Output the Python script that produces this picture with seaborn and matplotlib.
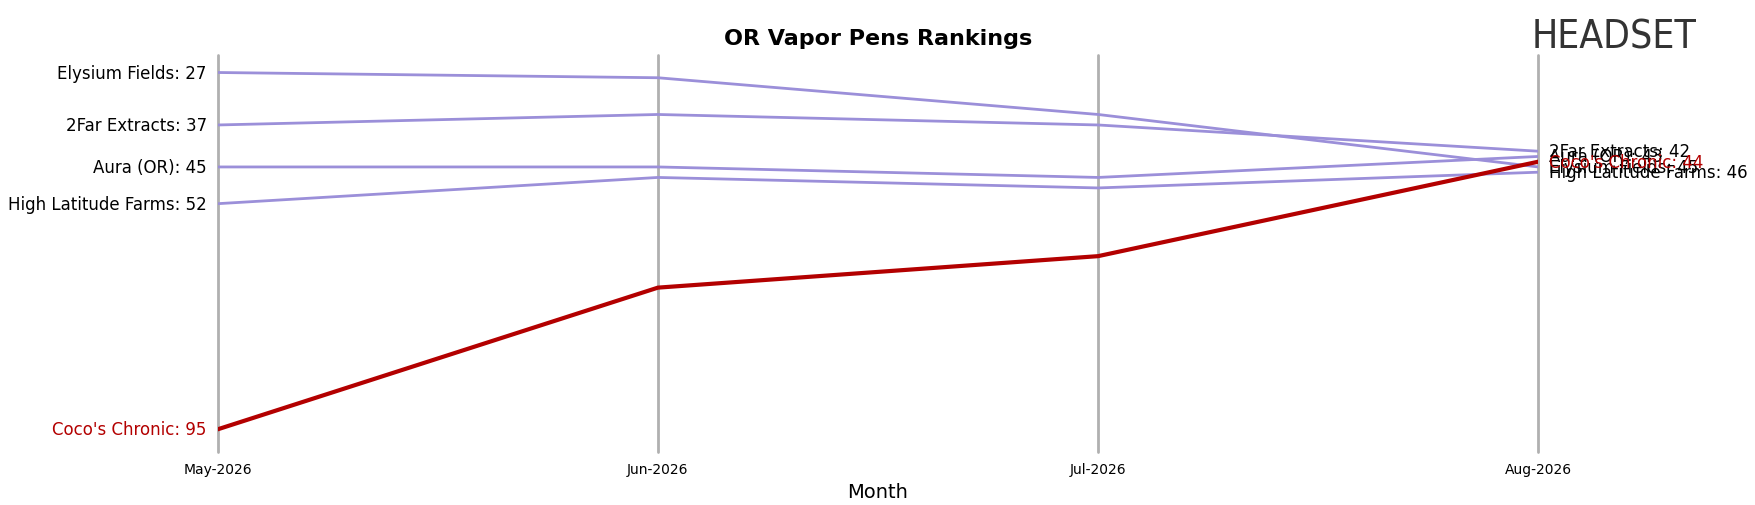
import matplotlib
matplotlib.use("Agg")
import matplotlib.pyplot as plt
import seaborn as sns
import pandas as pd

months = ["May-2026", "Jun-2026", "Jul-2026", "Aug-2026"]
brands = ["Elysium Fields", "2Far Extracts", "Aura (OR)", "High Latitude Farms", "Coco's Chronic"]
ranks = {
    "Elysium Fields": [27, 28, 35, 45],
    "2Far Extracts": [37, 35, 37, 42],
    "Aura (OR)": [45, 45, 47, 43],
    "High Latitude Farms": [52, 47, 49, 46],
    "Coco's Chronic": [95, 68, 62, 44],
}
highlight = "Coco's Chronic"

rows = [(b, i, r) for b in brands for i, r in enumerate(ranks[b])]
df = pd.DataFrame(rows, columns=["brand", "x", "rank"])

sns.set_style("white")
fig = plt.figure(figsize=(17.56, 5.06), dpi=100)
ax = fig.add_axes([0.124, 0.105, 0.752, 0.785])
for b in brands:
    d = df[df.brand == b]
    hl = b == highlight
    sns.lineplot(data=d, x="x", y="rank", ax=ax, color="#b30000" if hl else "#9b8fd9",
                 lw=3 if hl else 2, zorder=3 if hl else 2, legend=False)
    c = "#b30000" if hl else "black"
    ax.text(-0.025, ranks[b][0], f"{b}: {ranks[b][0]}", ha="right", va="center", fontsize=12, color=c)
    ax.text(3.025, ranks[b][-1], f"{b}: {ranks[b][-1]}", ha="left", va="center", fontsize=12, color=c)
for i in range(len(months)):
    ax.axvline(i, color="#b0b0b0", lw=2, zorder=1, clip_on=False)
ax.set_ylim(99.3, 23.6)
ax.set_xlim(0, 3)
ax.set_xticks(range(len(months)))
ax.set_xticklabels(months, fontsize=10, color="black")
ax.tick_params(axis="x", length=4, color="#b0b0b0")
ax.set_yticks([])
ax.set_ylabel("")
ax.set_xlabel("Month", fontsize=14, color="black")
for s in ax.spines.values():
    s.set_visible(False)
ax.set_title("OR Vapor Pens Rankings", fontsize=16, fontweight="bold", pad=8, color="black")
fig.text(0.872, 0.925, "HEADSET", fontsize=28, color="#333333", ha="left", va="center", fontstretch="condensed")
fig.savefig("out.png", dpi=100)
